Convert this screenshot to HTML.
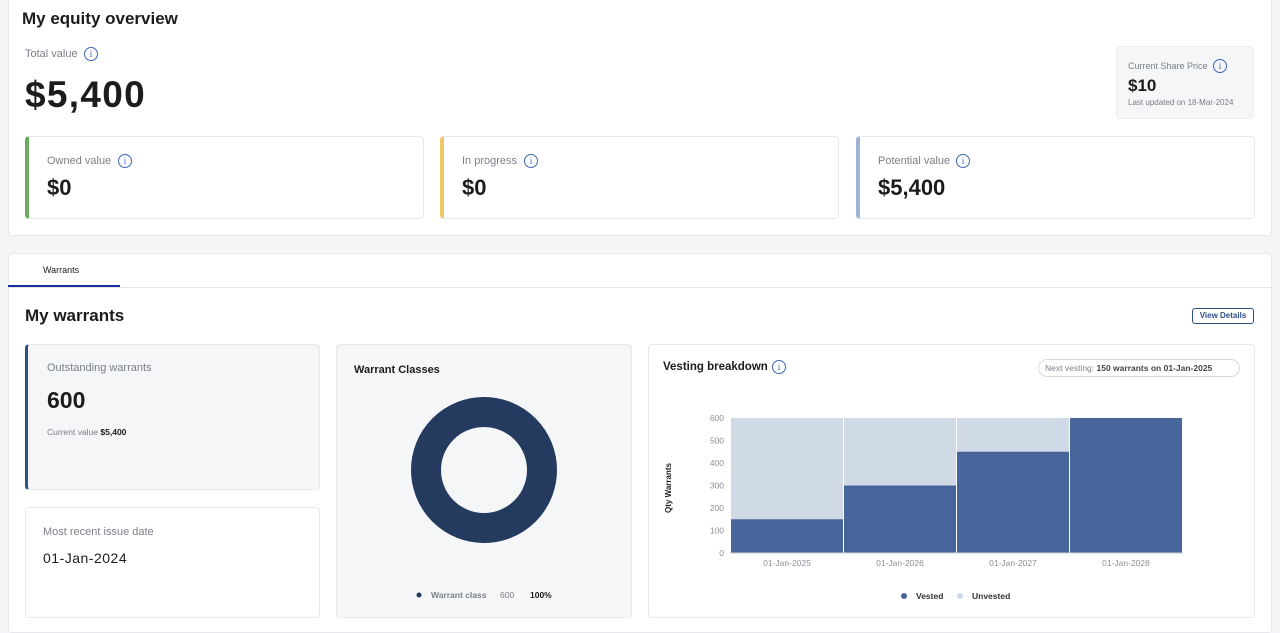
<!DOCTYPE html>
<html><head><meta charset="utf-8"><style>
*{margin:0;padding:0;box-sizing:border-box}
body{width:1280px;height:621px;background:#f4f5f7;font-family:"Liberation Sans",sans-serif;position:relative;overflow:hidden;color:#1c1c1c}
.a{position:absolute;white-space:nowrap}
.card{position:absolute;background:#fff;border:1px solid #e6e8eb;border-radius:4px}
.i{position:absolute;width:14px;height:14px;border:1.3px solid #3d64b4;border-radius:50%;color:#3d64b4;font-size:9px;line-height:12px;text-align:center;font-family:"Liberation Serif",serif}
.g{color:#7a7f87}
</style></head><body>
<div class="card" style="left:8px;top:-4px;width:1264px;height:240px;border-radius:4px"></div>
<div class="a" style="left:22px;top:9px;font-size:17px;font-weight:bold">My equity overview</div>
<div class="a g" style="left:25px;top:48px;font-size:11px">Total value</div><div class="i" style="left:84px;top:47px">i</div>
<div class="a" style="left:25px;top:74px;font-size:37px;font-weight:bold;letter-spacing:1.3px">$5,400</div>
<div class="a" style="left:1116px;top:46px;width:138px;height:73px;background:#f5f6f8;border:1px solid #eceef1;border-radius:4px"></div>
<div class="a g" style="left:1128px;top:61px;font-size:9px">Current Share Price</div><div class="i" style="left:1213px;top:59px">i</div>
<div class="a" style="left:1128px;top:76px;font-size:17px;font-weight:bold">$10</div>
<div class="a g" style="left:1128px;top:98px;font-size:8px">Last updated on 18-Mar-2024</div>

<div class="card" style="left:25px;top:136px;width:399px;height:83px;border-left:4px solid #6aab5f"></div>
<div class="a g" style="left:47px;top:155px;font-size:11px">Owned value</div><div class="i" style="left:118px;top:154px">i</div>
<div class="a" style="left:47px;top:175px;font-size:22px;font-weight:bold">$0</div>
<div class="card" style="left:440px;top:136px;width:399px;height:83px;border-left:4px solid #efc76a"></div>
<div class="a g" style="left:462px;top:155px;font-size:11px">In progress</div><div class="i" style="left:524px;top:154px">i</div>
<div class="a" style="left:462px;top:175px;font-size:22px;font-weight:bold">$0</div>
<div class="card" style="left:856px;top:136px;width:399px;height:83px;border-left:4px solid #9db3d4"></div>
<div class="a g" style="left:878px;top:155px;font-size:11px">Potential value</div><div class="i" style="left:956px;top:154px">i</div>
<div class="a" style="left:878px;top:175px;font-size:22px;font-weight:bold">$5,400</div>

<div class="card" style="left:8px;top:253px;width:1264px;height:380px"></div>
<div class="a" style="left:43px;top:265px;font-size:9px">Warrants</div>
<div class="a" style="left:9px;top:287px;width:1262px;height:1px;background:#e3e5e8"></div>
<div class="a" style="left:8px;top:285px;width:112px;height:2px;background:#1a2fa0"></div>
<div class="a" style="left:25px;top:306px;font-size:17px;font-weight:bold">My warrants</div>
<div class="a" style="left:1192px;top:308px;width:62px;height:16px;border:1px solid #2d4f86;border-radius:3px;font-size:8px;font-weight:bold;color:#2d4f86;text-align:center;line-height:14px">View Details</div>

<div class="card" style="left:25px;top:344px;width:295px;height:146px;background:#f5f6f8;border-left:3px solid #2d4f86"></div>
<div class="a g" style="left:47px;top:362px;font-size:11px">Outstanding warrants</div>
<div class="a" style="left:47px;top:387px;font-size:23px;font-weight:bold">600</div>
<div class="a" style="left:47px;top:427px;font-size:8.5px"><span class="g">Current value</span> <b>$5,400</b></div>
<div class="card" style="left:25px;top:507px;width:295px;height:111px"></div>
<div class="a g" style="left:43px;top:526px;font-size:11px">Most recent issue date</div>
<div class="a" style="left:43px;top:550px;font-size:14px;letter-spacing:.5px">01-Jan-2024</div>

<div class="card" style="left:336px;top:344px;width:296px;height:274px;background:#f5f6f8"></div>
<div class="a" style="left:354px;top:364px;font-size:11px;font-weight:bold">Warrant Classes</div>
<svg class="a" style="left:0;top:0" width="1280" height="621">
<circle cx="484" cy="470" r="58" fill="none" stroke="#243a5e" stroke-width="30"/>
<circle cx="419" cy="595" r="2.5" fill="#243a5e"/>
</svg>
<div class="a g" style="left:431px;top:590px;font-size:8.5px;font-weight:bold">Warrant class</div>
<div class="a g" style="left:500px;top:590px;font-size:8.5px">600</div>
<div class="a" style="left:530px;top:590px;font-size:8.5px;font-weight:bold">100%</div>

<div class="card" style="left:648px;top:344px;width:607px;height:274px"></div>
<div class="a" style="left:663px;top:361px;font-size:11.5px;font-weight:bold">Vesting breakdown</div><div class="i" style="left:772px;top:360px">i</div>
<div class="a" style="left:1038px;top:359px;width:202px;height:18px;border:1px solid #d9dce0;border-radius:9px;font-size:8.5px;line-height:16px;padding-left:6px"><span class="g">Next vesting:</span> <b style="color:#444">150 warrants on 01-Jan-2025</b></div>
<svg class="a" style="left:0;top:0" width="1280" height="621" font-family="Liberation Sans" font-size="8.5" fill="#8a8f96">
<g>
<rect x="731" y="418" width="112" height="135" fill="#d0dae6"/>
<rect x="844" y="418" width="112" height="135" fill="#d0dae6"/>
<rect x="957" y="418" width="112" height="135" fill="#d0dae6"/>
<rect x="731" y="519.25" width="112" height="33.75" fill="#46659a"/>
<rect x="844" y="485.5" width="112" height="67.5" fill="#46659a"/>
<rect x="957" y="451.75" width="112" height="101.25" fill="#46659a"/>
<rect x="1070" y="418" width="112" height="135" fill="#46659a"/>
<line x1="730" y1="553" x2="1183" y2="553" stroke="#ccc"/>
</g>
<g text-anchor="end">
<text x="724" y="421">600</text><text x="724" y="443.5">500</text><text x="724" y="466">400</text><text x="724" y="488.5">300</text><text x="724" y="511">200</text><text x="724" y="533.5">100</text><text x="724" y="556">0</text>
</g>
<g text-anchor="middle">
<text x="787" y="566">01-Jan-2025</text><text x="900" y="566">01-Jan-2026</text><text x="1013" y="566">01-Jan-2027</text><text x="1126" y="566">01-Jan-2028</text>
</g>
<text transform="translate(671,488) rotate(-90)" text-anchor="middle" fill="#222" font-weight="bold" font-size="8">Qty Warrants</text>
<circle cx="904" cy="596" r="3" fill="#46659a"/><text x="916" y="599" fill="#333" font-weight="bold">Vested</text>
<circle cx="960" cy="596" r="3" fill="#d0dae6"/><text x="972" y="599" fill="#333" font-weight="bold">Unvested</text>
</svg>
</body></html>
